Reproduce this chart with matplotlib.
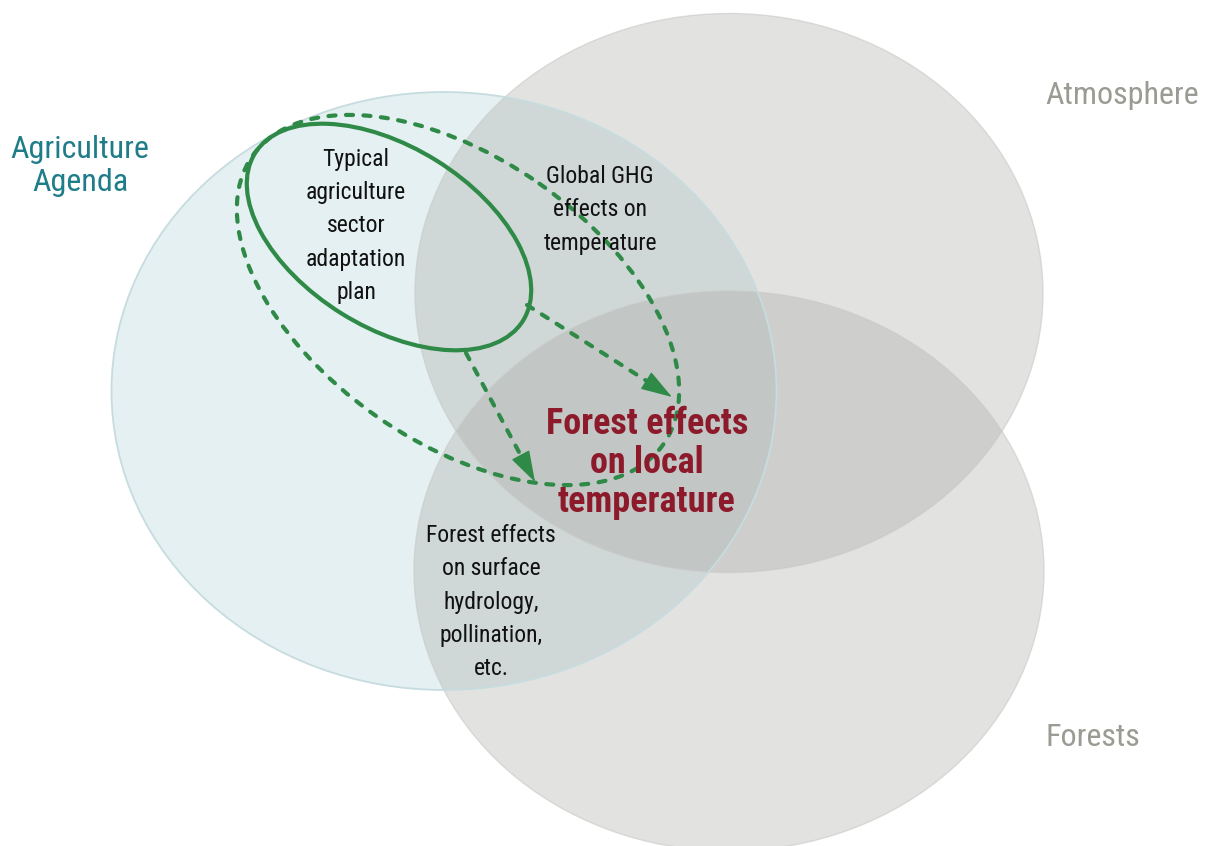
import matplotlib
matplotlib.use("Agg")
import matplotlib.pyplot as plt
from matplotlib import font_manager
from matplotlib.patches import Ellipse

# circles of the diagram: name, centre (x, y), width, height  (pixel space, y down)
circle_names = ["Agriculture Agenda", "Atmosphere", "Forests"]
circle_centres = [(444, 391), (729, 293), (729, 571)]
circle_sizes = [(665, 598), (628, 559), (630, 560)]

# green scope ellipses: centre, width, height, angle
plan_ellipse = ((389, 237), 316, 180, 32)
scope_ellipse = ((458, 300), 502, 284, 35)

# dashed arrows: start -> end
arrow_starts = [(527, 305), (466, 353)]
arrow_ends = [(672, 397), (535, 482)]

labels = ["Agriculture\nAgenda", "Atmosphere", "Forests"]
label_pos = [(80, 166), (1122, 95), (1093, 738)]
label_colors = ["#1e7d88", "#9a9b93", "#9a9b93"]

notes = [
    "Typical\nagriculture\nsector\nadaptation\nplan",
    "Global GHG\neffects on\ntemperature",
    "Forest effects\non surface\nhydrology,\npollination,\netc.",
]
note_pos = [(356, 226), (600, 210), (491, 602)]

focus_text = "Forest effects\non local\ntemperature"
focus_pos = (647, 463)

GREEN = "#2f8a48"
DASH = (0, (1.7, 2.5))
DASH_LW = 3.0


def pick_font():
    have = {f.name for f in font_manager.fontManager.ttflist}
    for name in ["Roboto Condensed", "Liberation Sans Narrow", "Roboto", "DejaVu Sans"]:
        if name in have:
            return name
    return "DejaVu Sans"


FONT = pick_font()
plt.rcParams["font.family"] = [FONT, "DejaVu Sans"]

fig = plt.figure(figsize=(12.06, 8.46), dpi=100)
ax = fig.add_axes([0, 0, 1, 1])
ax.set_xlim(0, 1206)
ax.set_ylim(846, 0)
ax.axis("off")

# agriculture circle (bottom layer)
(cx, cy), (w, h) = circle_centres[0], circle_sizes[0]
ax.add_patch(Ellipse((cx, cy), w, h, facecolor="#e4f0f1", edgecolor="none", zorder=1))

# grey circles, translucent
for (cx, cy), (w, h) in zip(circle_centres[1:], circle_sizes[1:]):
    ax.add_patch(Ellipse((cx, cy), w, h, facecolor="#a6a6a2", alpha=0.32,
                         edgecolor="none", zorder=2))
    ax.add_patch(Ellipse((cx, cy), w, h, facecolor="none", edgecolor="#c9c9c6",
                         lw=1.0, alpha=0.6, zorder=3))

# agriculture outline on top
(cx, cy), (w, h) = circle_centres[0], circle_sizes[0]
ax.add_patch(Ellipse((cx, cy), w, h, facecolor="none", edgecolor="#c6dcdf",
                     lw=1.3, zorder=4))

# green ellipses
c, w, h, a = plan_ellipse
ax.add_patch(Ellipse(c, w, h, angle=a, facecolor="none", edgecolor=GREEN,
                     lw=3.0, zorder=6))
c, w, h, a = scope_ellipse
e = Ellipse(c, w, h, angle=a, facecolor="none", edgecolor=GREEN,
            lw=DASH_LW, linestyle=DASH, zorder=6)
e.set_capstyle("round")
ax.add_patch(e)

# dashed arrows
for (x0, y0), (x1, y1) in zip(arrow_starts, arrow_ends):
    dx, dy = x1 - x0, y1 - y0
    ax.plot([x0, x1 - dx * 0.08], [y0, y1 - dy * 0.08], color=GREEN, lw=DASH_LW,
            linestyle=DASH, dash_capstyle="round", zorder=6)
    ax.annotate("", xy=(x1, y1), xytext=(x1 - dx * 0.02, y1 - dy * 0.02),
                arrowprops=dict(arrowstyle="-|>,head_length=1.0,head_width=0.32",
                                color=GREEN, lw=1, shrinkA=0, shrinkB=0,
                                mutation_scale=20), zorder=7)

for txt, (x, y), col in zip(labels, label_pos, label_colors):
    ax.text(x, y, txt, color=col, fontsize=23, ha="center", va="center",
            linespacing=1.15, zorder=8)

for txt, (x, y) in zip(notes, note_pos):
    ax.text(x, y, txt, color="#111111", fontsize=17, ha="center", va="center",
            linespacing=1.58, zorder=8)

ax.text(focus_pos[0], focus_pos[1], focus_text, color="#8c1a2b", fontsize=26,
        fontweight="bold", ha="center", va="center", linespacing=1.11, zorder=8)

fig.savefig("out.png", dpi=100, facecolor="white")
